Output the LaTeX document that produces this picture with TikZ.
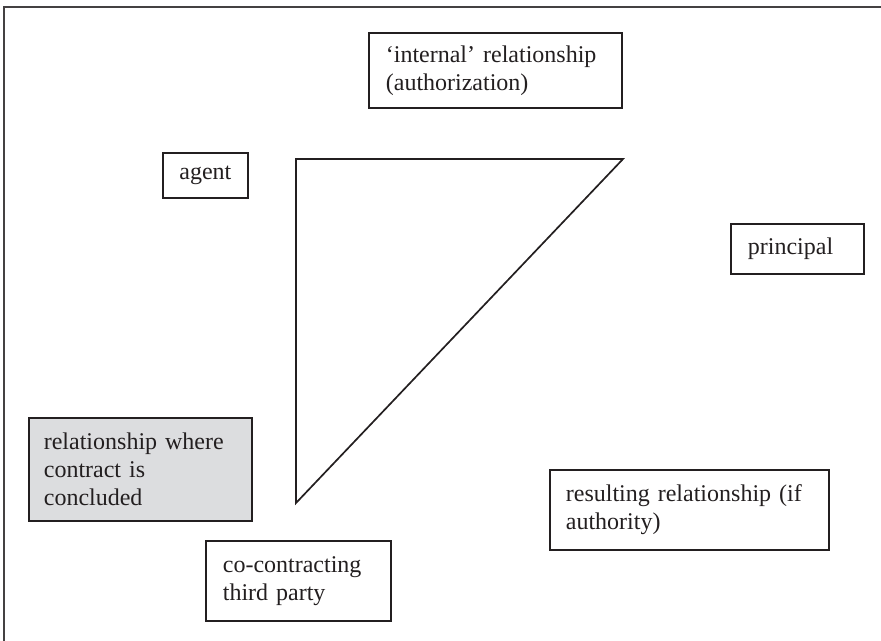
\documentclass[tikz,border=0pt]{standalone}
\usepackage{fontspec}
\setmainfont{Liberation Serif}
\definecolor{panelgray}{HTML}{DCDDDF}
\definecolor{inkdark}{HTML}{231F20}
\begin{document}
\begin{tikzpicture}[x=1pt,y=-1pt,
  label/.style={draw=inkdark, line width=1.7pt, inner sep=0pt, anchor=north west,
    align=left, text=inkdark, font=\fontsize{24}{28}\selectfont},
  frameline/.style={line width=2pt, inkdark!85},
  triline/.style={line width=1.7pt, inkdark, line join=miter},
]
\useasboundingbox (0,0) rectangle (881,640);
% outer frame (top and left edges)
\draw[frameline] (4,642) -- (4,7) -- (883,7);

% relationship triangle
\coordinate (tl) at (296,159);
\coordinate (tr) at (623,159);
\coordinate (bl) at (296,503);
\draw[triline] (tl) -- (tr) -- (bl) -- cycle;

% labels
\node[label, minimum width=253pt, minimum height=75pt, text width=219pt] (internal) at (368,32)
  {‘internal’ relationship\\(authorization)};
\node[label, minimum width=85pt, minimum height=45pt, align=center] (agent) at (162,152) {agent};
\node[label, minimum width=133pt, minimum height=50pt, text width=99pt] (principal) at (730,223) {principal};
\node[label, fill=panelgray, minimum width=223pt, minimum height=103pt, text width=193pt] (concluded) at (28,417)
  {relationship where\\contract is\\concluded};
\node[label, minimum width=279pt, minimum height=80pt, text width=247pt] (resulting) at (549,469)
  {resulting relationship (if\\authority)};
\node[label, minimum width=185pt, minimum height=80pt, text width=151pt] (third) at (205,540)
  {co-contracting\\third party};
\end{tikzpicture}
\end{document}
